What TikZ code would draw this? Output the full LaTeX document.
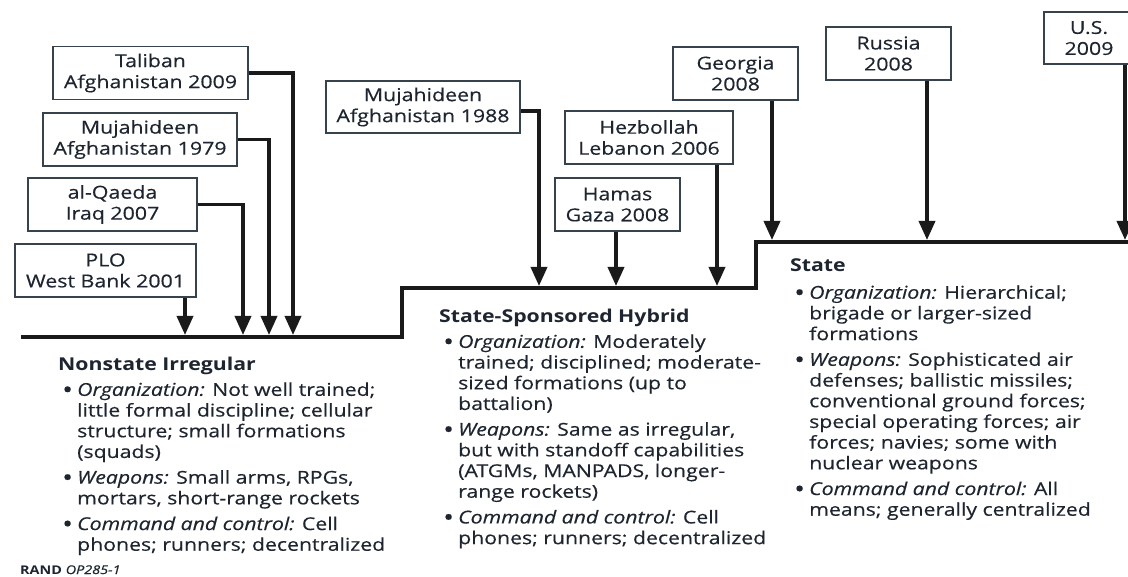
\documentclass[tikz,border=0pt]{standalone}
\usepackage{fontspec}
\setmainfont{Open Sans}[FakeStretch=1.2,
  UprightFeatures={FakeBold=0.4}, ItalicFeatures={FakeBold=0.4}]
\usetikzlibrary{arrows.meta}
\definecolor{ink}{HTML}{1E2530}
\definecolor{rule}{HTML}{1A1A1A}
\definecolor{frame}{HTML}{36434C}
\newcommand\descbullet{\hspace*{4pt}\makebox[15pt][l]{\raisebox{-2.2pt}{\scalebox{1.35}{\textbullet}}}}
\newcommand\descindent{\hspace*{19pt}}

\begin{document}
\begin{tikzpicture}[x=1pt,y=-1pt,
  actor/.style={draw=frame, line width=1.3pt, fill=white, inner sep=0pt,
    align=center, text=ink, font=\fontsize{17.8}{21}\selectfont, minimum height=53pt},
  feed/.style={draw=rule, line width=3.6pt, line join=miter,
    -{Triangle[width=16pt,length=19pt]}},
  tier/.style={draw=rule, line width=4pt, line join=miter},
  desc/.style={anchor=north west, inner sep=0pt, align=left, text=ink,
    font=\fontsize{17.7}{20.7}\selectfont},
]
\useasboundingbox[fill=white] (0,0) rectangle (1128,577);

% stepped baseline: irregular -> hybrid -> state
\draw[tier] (21,337) -- (402,337) -- (402,288) -- (756,288) -- (756,242) -- (1135,242);

% arrow targets on the three tiers
\coordinate (t-plo) at (185,335);
\coordinate (t-alq) at (243,335);
\coordinate (t-muj79) at (269,335);
\coordinate (t-tal) at (293,335);
\coordinate (t-muj88) at (539,286);
\coordinate (t-ham) at (616,286);
\coordinate (t-hez) at (717,286);
\coordinate (t-geo) at (772,240);
\coordinate (t-rus) at (927,240);
\coordinate (t-us) at (1125,240);

% case boxes
\node[actor, minimum width=195pt] (tal) at (150.5,73) {Taliban\\Afghanistan 2009};
\node[actor, minimum width=194pt] (muj79) at (140,139.5) {Mujahideen\\Afghanistan 1979};
\node[actor, minimum width=169pt] (alq) at (112.5,204.5) {al-Qaeda\\Iraq 2007};
\node[actor, minimum width=181pt] (plo) at (105.5,270.5) {PLO\\West Bank 2001};
\node[actor, minimum width=194pt, minimum height=52pt] (muj88) at (423,107) {Mujahideen\\Afghanistan 1988};
\node[actor, minimum width=168pt] (hez) at (649,137.5) {Hezbollah\\Lebanon 2006};
\node[actor, minimum width=125pt] (ham) at (617.5,204.5) {Hamas\\Gaza 2008};
\node[actor, minimum width=125pt] (geo) at (735.5,73.5) {Georgia\\2008};
\node[actor, minimum width=125pt] (rus) at (888.5,53.5) {Russia\\2008};
\node[actor, minimum width=90pt, minimum height=52pt] (us) at (1089,38) {U.S.\\2009};

% connectors
\draw[feed] (tal.east) -| (t-tal);
\draw[feed] (muj79.east) -| (t-muj79);
\draw[feed] (alq.east) -| (t-alq);
\draw[feed] (plo.south -| t-plo) -- (t-plo);
\draw[feed] ([yshift=-4pt]muj88.east) -| (t-muj88);
\draw[feed] (ham.south -| t-ham) -- (t-ham);
\draw[feed] (hez.south -| t-hez) -- (t-hez);
\draw[feed] (geo.south -| t-geo) -- (t-geo);
\draw[feed] (rus.south -| t-rus) -- (t-rus);
\draw[feed] (us.south -| t-us) -- (t-us);

% tier descriptions
\node[desc] (irregular) at (58,357) {%
\textbf{Nonstate Irregular}\\[4.5pt]
\descbullet\textit{Organization:} Not well trained;\\
\descindent little formal discipline; cellular\\
\descindent structure; small formations\\
\descindent (squads)\\[5pt]
\descbullet\textit{Weapons:} Small arms, RPGs,\\
\descindent mortars, short-range rockets\\[5pt]
\descbullet\textit{Command and control:} Cell\\
\descindent phones; runners; decentralized};

\node[desc] (hybrid) at (439,309) {%
\textbf{State-Sponsored Hybrid}\\[4.5pt]
\descbullet\textit{Organization:} Moderately\\
\descindent trained; disciplined; moderate-\\
\descindent sized formations (up to\\
\descindent battalion)\\[5pt]
\descbullet\textit{Weapons:} Same as irregular,\\
\descindent but with standoff capabilities\\
\descindent (ATGMs, MANPADS, longer-\\
\descindent range rockets)\\[5pt]
\descbullet\textit{Command and control:} Cell\\
\descindent phones; runners; decentralized};

\node[desc] (state) at (790,258) {%
\textbf{State}\\[7pt]
\descbullet\textit{Organization:} Hierarchical;\\
\descindent brigade or larger-sized\\
\descindent formations\\[5pt]
\descbullet\textit{Weapons:} Sophisticated air\\
\descindent defenses; ballistic missiles;\\
\descindent conventional ground forces;\\
\descindent special operating forces; air\\
\descindent forces; navies; some with\\
\descindent nuclear weapons\\[5pt]
\descbullet\textit{Command and control:} All\\
\descindent means; generally centralized};

% source tag
\node[anchor=base west, inner sep=0pt, text=ink, font=\fontsize{12}{14}\selectfont]
  (credit) at (20,574) {\textbf{RAND} \textit{OP285-1}};
\end{tikzpicture}
\end{document}
